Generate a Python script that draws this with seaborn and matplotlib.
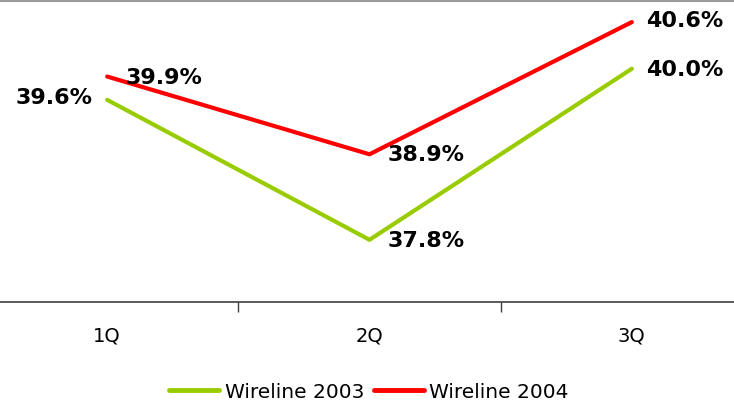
import matplotlib
matplotlib.use("Agg")
import matplotlib.pyplot as plt
import seaborn as sns
import pandas as pd
from matplotlib.lines import Line2D

quarters = ["1Q", "2Q", "3Q"]
wireline_2003 = [39.6, 37.8, 40.0]
wireline_2004 = [39.9, 38.9, 40.6]
series_names = ["Wireline 2003", "Wireline 2004"]

df = pd.DataFrame({
    "quarter": quarters * 2,
    "x": list(range(len(quarters))) * 2,
    "value": wireline_2003 + wireline_2004,
    "series": [series_names[0]] * 3 + [series_names[1]] * 3,
})

sns.set_style("white")
plt.rcParams["font.family"] = ["DejaVu Sans"]

fig = plt.figure(figsize=(7.34, 4.04), dpi=100)
ax = fig.add_axes([-24 / 734, (404 - 302) / 404, 787 / 734, 311 / 404])
palette = {series_names[0]: "#99CC00", series_names[1]: "#FF0000"}
sns.lineplot(data=df, x="x", y="value", hue="series", palette=palette,
             linewidth=3, ax=ax, legend=False)

ax.set_xlim(-0.5, 2.5)
ax.set_ylim(37.0, 41.0)
ax.set_xlabel("")
ax.set_ylabel("")
ax.set_yticks([])
ax.set_xticks(range(len(quarters)))
ax.set_xticklabels(quarters, fontsize=14, color="black")
ax.set_xticks([0.5, 1.5], minor=True)
ax.tick_params(axis="x", which="major", length=0, pad=18)
ax.tick_params(axis="x", which="minor", length=7, width=1, color="#404040", direction="out", bottom=True)
for s in ["left", "right", "top"]:
    ax.spines[s].set_visible(False)
ax.spines["bottom"].set_color("#404040")
ax.spines["bottom"].set_linewidth(1.2)

# value labels
lbl = dict(fontsize=16, fontweight="bold", color="black", textcoords="offset pixels", va="center")
# 2003
ax.annotate(f"{wireline_2003[0]:.1f}%", (0, wireline_2003[0]), xytext=(-15, 2), ha="right", **lbl)
ax.annotate(f"{wireline_2003[1]:.1f}%", (1, wireline_2003[1]), xytext=(18, -1), ha="left", **lbl)
ax.annotate(f"{wireline_2003[2]:.1f}%", (2, wireline_2003[2]), xytext=(14, -1), ha="left", **lbl)
# 2004
ax.annotate(f"{wireline_2004[0]:.1f}%", (0, wireline_2004[0]), xytext=(18, -1), ha="left", **lbl)
ax.annotate(f"{wireline_2004[1]:.1f}%", (1, wireline_2004[1]), xytext=(18, -1), ha="left", **lbl)
ax.annotate(f"{wireline_2004[2]:.1f}%", (2, wireline_2004[2]), xytext=(14, 1), ha="left", **lbl)

# top border line
fig.add_artist(Line2D([0, 1], [0.9985, 0.9985], color="#999999", linewidth=1.5,
                      transform=fig.transFigure))

handles = [Line2D([], [], color=palette[n], linewidth=3.5) for n in series_names]
fig.legend(handles, series_names, loc="center", bbox_to_anchor=(369 / 734, 1 - 392 / 404),
           ncol=2, frameon=False, fontsize=14.5, handlelength=2.5,
           handletextpad=0.25, columnspacing=0.5, labelcolor="black")

fig.savefig("out.png", dpi=100)
